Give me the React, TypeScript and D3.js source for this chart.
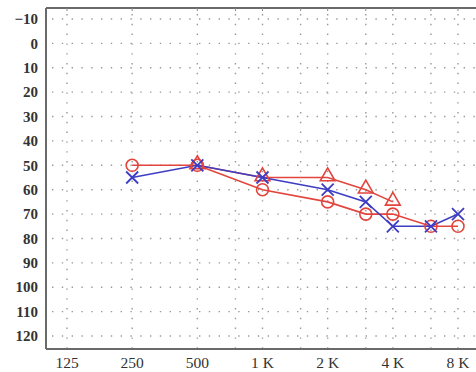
import * as d3 from "d3";
import React from "react";

// audiogram values (dB HL)
const freqs = [250, 500, 1000, 2000, 3000, 4000, 6000, 8000];
const rightEar = [50, 50, 60, 65, 70, 70, 75, 75];
const leftEar = [55, 50, 55, 60, 65, 75, 75, 70];
const boneFreqs = [500, 1000, 2000, 3000, 4000];
const boneVals = [50, 55, 55, 60, 65];

const xTicks = [125, 250, 500, 1000, 2000, 4000, 8000];
const xTickLabels = ["125", "250", "500", "1 K", "2 K", "4 K", "8 K"];
const gridFreqs = [125, 250, 500, 750, 1000, 1500, 2000, 3000, 4000, 6000, 8000];
const yTicks = d3.range(-10, 121, 10);

const W = 476, H = 372;
const left = 46, top = 8, bottom = 349;
const RED = "#e2453d";
const BLUE = "#3d3dc4";

export default function App() {
    const x = d3.scaleLog().base(2).domain([125, 8000]).range([67, 458]);
    const y = d3.scaleLinear().domain([-10, 120]).range([19, 336]);

    const line = d3
        .line<[number, number]>()
        .x((d) => x(d[0]))
        .y((d) => y(d[1]));

    const rightPts = freqs.map((f, i) => [f, rightEar[i]] as [number, number]);
    const leftPts = freqs.map((f, i) => [f, leftEar[i]] as [number, number]);
    const bonePts = boneFreqs.map((f, i) => [f, boneVals[i]] as [number, number]);

    const font = "'Liberation Serif', 'DejaVu Serif', serif";

    return (
        <svg width={W} height={H} style={{ position: "absolute", left: 0, top: 0, background: "#fff" }}>
            {/* grid */}
            <g stroke="#999" strokeWidth={1.4} strokeDasharray="1.4,8.4" fill="none">
                {yTicks.map((t) => (
                    <line key={"h" + t} x1={left + 6} x2={W} y1={y(t)} y2={y(t)} />
                ))}
                {gridFreqs.map((f) => (
                    <line key={"v" + f} x1={x(f)} x2={x(f)} y1={top + 6} y2={bottom} />
                ))}
            </g>

            {/* frame */}
            <g stroke="#6a6a6a" strokeWidth={2} fill="none">
                <line x1={left} x2={W} y1={top} y2={top} />
                <line x1={left} x2={left} y1={top} y2={bottom} />
                <line x1={left} x2={W} y1={bottom} y2={bottom} />
            </g>
            <g stroke="#888" strokeWidth={1}>
                {gridFreqs.map((f) => (
                    <line key={"tk" + f} x1={x(f)} x2={x(f)} y1={top} y2={top + 3} />
                ))}
            </g>

            {/* y labels */}
            <g fontFamily={font} fontSize={15} fontWeight="bold" fill="#333" textAnchor="end">
                {yTicks.map((t) => (
                    <text key={t} x={38} y={y(t)} dy="0.35em">
                        {t < 0 ? "\u2212" + Math.abs(t) : t}
                    </text>
                ))}
            </g>

            {/* x labels */}
            <g fontFamily={font} fontSize={15.5} fill="#333" textAnchor="middle">
                {xTicks.map((t, i) => (
                    <text key={t} x={x(t)} y={368}>
                        {xTickLabels[i]}
                    </text>
                ))}
            </g>

            {/* series lines */}
            <path d={line(bonePts) || ""} fill="none" stroke={RED} strokeWidth={1.6} />
            <path d={line(rightPts) || ""} fill="none" stroke={RED} strokeWidth={1.6} />
            <path d={line(leftPts) || ""} fill="none" stroke={BLUE} strokeWidth={1.6} />

            {/* bone conduction triangles */}
            {bonePts.map((d) => (
                <path
                    key={"t" + d[0]}
                    d={d3.symbol(d3.symbolTriangle, 95)() || ""}
                    transform={`translate(${x(d[0])},${y(d[1]) - 1})`}
                    fill="none"
                    stroke={RED}
                    strokeWidth={1.6}
                />
            ))}

            {/* right ear circles */}
            {rightPts.map((d) => (
                <circle key={"c" + d[0]} cx={x(d[0])} cy={y(d[1])} r={6} fill="none" stroke={RED} strokeWidth={1.6} />
            ))}

            {/* left ear crosses */}
            {leftPts.map((d) => (
                <path
                    key={"x" + d[0]}
                    d={`M-6,-6L6,6M-6,6L6,-6`}
                    transform={`translate(${x(d[0])},${y(d[1])})`}
                    stroke={BLUE}
                    strokeWidth={1.8}
                />
            ))}
        </svg>
    );
}
